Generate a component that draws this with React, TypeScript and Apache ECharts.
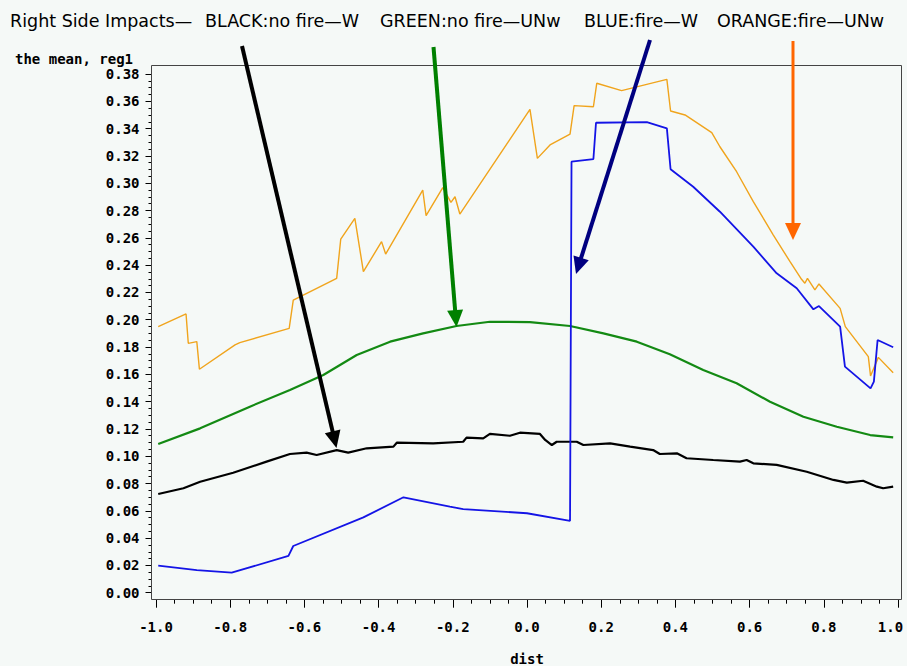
import React, { useEffect, useRef } from "react";
import * as echarts from "echarts";

// dist (x) and mean reg1 (y) pairs
const blackData: [number, number][] = [
  [-0.994, 0.0723], [-0.926, 0.0765], [-0.881, 0.0813], [-0.792, 0.0879], [-0.702, 0.096],
  [-0.639, 0.1016], [-0.594, 0.1026], [-0.567, 0.1009], [-0.513, 0.1045], [-0.482, 0.1026],
  [-0.432, 0.1058], [-0.36, 0.107], [-0.351, 0.1099], [-0.253, 0.1094], [-0.172, 0.1106],
  [-0.163, 0.1136], [-0.118, 0.1131], [-0.1, 0.1163], [-0.046, 0.115], [-0.019, 0.1172],
  [0.035, 0.1163], [0.049, 0.1119], [0.067, 0.1082], [0.08, 0.1106], [0.134, 0.1106],
  [0.152, 0.1082], [0.224, 0.1094], [0.278, 0.107], [0.34, 0.1045], [0.358, 0.1016],
  [0.404, 0.1021], [0.43, 0.0985], [0.502, 0.0972], [0.574, 0.096], [0.592, 0.0972],
  [0.61, 0.0948], [0.673, 0.0936], [0.754, 0.0886], [0.826, 0.0826], [0.862, 0.0806],
  [0.906, 0.082], [0.943, 0.0777], [0.96, 0.0765], [0.987, 0.0777],
];

const greenData: [number, number][] = [
  [-0.994, 0.1089], [-0.881, 0.1204], [-0.747, 0.1363], [-0.639, 0.1485], [-0.549, 0.1595],
  [-0.459, 0.1741], [-0.369, 0.1839], [-0.28, 0.19], [-0.19, 0.1954], [-0.1, 0.1985],
  [0.008, 0.1982], [0.116, 0.1954], [0.206, 0.19], [0.296, 0.1839], [0.385, 0.1747],
  [0.475, 0.1632], [0.565, 0.1534], [0.655, 0.1399], [0.745, 0.1289], [0.835, 0.1216],
  [0.925, 0.1155], [0.987, 0.1138],
];

const blueData: [number, number][] = [
  [-0.994, 0.0198], [-0.89, 0.0166], [-0.796, 0.0147], [-0.643, 0.0269], [-0.63, 0.0342],
  [-0.441, 0.0552], [-0.333, 0.0699], [-0.208, 0.063], [-0.172, 0.0613], [0.0, 0.0582],
  [0.116, 0.0527], [0.12, 0.3158], [0.179, 0.3177], [0.186, 0.3443], [0.323, 0.3448],
  [0.377, 0.3402], [0.387, 0.3102], [0.448, 0.2974], [0.52, 0.2791], [0.61, 0.2535],
  [0.673, 0.234], [0.727, 0.223], [0.772, 0.2076], [0.787, 0.21], [0.844, 0.1949],
  [0.857, 0.1656], [0.926, 0.1497], [0.935, 0.1546], [0.945, 0.1851], [0.987, 0.1798],
];

const orangeData: [number, number][] = [
  [-0.994, 0.1949], [-0.919, 0.2042], [-0.913, 0.1827], [-0.89, 0.1839], [-0.883, 0.1637],
  [-0.787, 0.1815], [-0.774, 0.1832], [-0.641, 0.1937], [-0.63, 0.2144], [-0.513, 0.2303],
  [-0.502, 0.2591], [-0.464, 0.2743], [-0.441, 0.2352], [-0.392, 0.2572], [-0.381, 0.2481],
  [-0.281, 0.295], [-0.272, 0.2762], [-0.227, 0.2967], [-0.205, 0.286], [-0.194, 0.2901],
  [-0.181, 0.2774], [0.008, 0.3541], [0.028, 0.3182], [0.062, 0.328], [0.116, 0.336],
  [0.127, 0.3568], [0.179, 0.356], [0.188, 0.3732], [0.255, 0.3678], [0.377, 0.3761],
  [0.387, 0.3529], [0.426, 0.35], [0.498, 0.337], [0.52, 0.3267], [0.565, 0.3084],
  [0.61, 0.2865], [0.664, 0.262], [0.709, 0.2425], [0.74, 0.2296], [0.749, 0.2267],
  [0.756, 0.2303], [0.776, 0.2218], [0.787, 0.2262], [0.844, 0.2083], [0.858, 0.1949],
  [0.92, 0.1729], [0.926, 0.1588], [0.947, 0.1724], [0.987, 0.1612],
];

const titleParts = [
  "Right Side Impacts\u2014",
  "BLACK:no fire\u2014W",
  "GREEN:no fire\u2014UNw",
  "BLUE:fire\u2014W",
  "ORANGE:fire\u2014UNw",
];
const yAxisTitle = "the mean, reg1";
const xAxisTitle = "dist";

const BG = "#f5f9f7";
const tickFont = 'bold 14px "DejaVu Sans Mono", monospace';
const labelStyle = {
  fontFamily: "DejaVu Sans Mono",
  fontWeight: "bold",
  fontSize: 14,
  color: "#000",
};

function arrow(x1: number, y1: number, x2: number, y2: number, color: string, w: number) {
  const dx = x2 - x1;
  const dy = y2 - y1;
  const len = Math.sqrt(dx * dx + dy * dy);
  const ux = dx / len;
  const uy = dy / len;
  const L = 17;
  const H = 8;
  const bx = x2 - ux * L;
  const by = y2 - uy * L;
  const nx = -uy;
  const ny = ux;
  return [
    {
      type: "line",
      z: 100,
      shape: { x1, y1, x2: bx + ux * 2, y2: by + uy * 2 },
      style: { stroke: color, lineWidth: w },
    },
    {
      type: "polygon",
      z: 100,
      shape: {
        points: [
          [x2, y2],
          [bx + nx * H, by + ny * H],
          [bx - nx * H, by - ny * H],
        ],
      },
      style: { fill: color },
    },
  ];
}

export default function App() {
  const ref = useRef<HTMLDivElement>(null);
  useEffect(() => {
    document.body.style.margin = "0";
    document.body.style.background = BG;
    const chart = echarts.init(ref.current!, null, { renderer: "svg" });
    const titleX = [10, 205, 380, 584, 717];
    const graphic: any[] = [
      ...titleParts.map((t, i) => ({
        type: "text",
        x: titleX[i],
        y: 21,
        style: {
          text: t,
          font: '17.5px "DejaVu Sans", sans-serif',
          fill: "#000",
          textAlign: "left",
          textVerticalAlign: "middle",
          align: "left",
          verticalAlign: "middle",
        },
      })),
      {
        type: "text",
        x: 15,
        y: 58.5,
        style: {
          text: yAxisTitle,
          font: tickFont,
          fill: "#000",
          textAlign: "left",
          textVerticalAlign: "middle",
          align: "left",
          verticalAlign: "middle",
        },
      },
      {
        type: "rect",
        z: 50,
        shape: { x: 151.5, y: 65.5, width: 750, height: 534 },
        style: { fill: "none", stroke: "#444", lineWidth: 1 },
      },
      ...arrow(242, 46, 336.5, 448, "#000000", 4),
      ...arrow(433.5, 47, 456.5, 327, "#008000", 4),
      ...arrow(650, 40, 576, 274, "#000080", 4),
      ...arrow(793, 41, 793, 240, "#ff6600", 3),
    ];
    const mk = (name: string, data: [number, number][], color: string, width: number) => ({
      type: "line",
      name,
      data,
      showSymbol: false,
      symbol: "none",
      lineStyle: { color, width },
      itemStyle: { color },
    });
    chart.setOption({
      animation: false,
      backgroundColor: BG,
      grid: { left: 156, top: 74, width: 742, height: 518.7, outerBoundsMode: "none", containLabel: false },
      xAxis: {
        type: "value",
        min: -1,
        max: 1,
        interval: 0.2,
        offset: 7,
        name: xAxisTitle,
        nameLocation: "middle",
        nameGap: 52,
        nameTextStyle: { ...labelStyle },
        axisLine: { show: false, onZero: false },
        axisTick: { show: true, length: 8, lineStyle: { color: "#000", width: 1 } },
        minorTick: { show: true, splitNumber: 4, length: 4, lineStyle: { color: "#000", width: 1 } },
        splitLine: { show: false },
        axisLabel: {
          margin: 20,
          ...labelStyle,
          formatter: (v: number) => (v >= 0.999 ? "{m|" + v.toFixed(1) + "}" : v.toFixed(1)),
          rich: {
            m: { ...labelStyle, padding: [0, 15, 0, 0] },
          },
        },
      },
      yAxis: {
        type: "value",
        min: 0,
        max: 0.38,
        interval: 0.02,
        offset: 4.5,
        axisLine: { show: false, onZero: false },
        axisTick: { show: true, length: 6, lineStyle: { color: "#000", width: 1 } },
        minorTick: { show: true, splitNumber: 4, length: 3, lineStyle: { color: "#000", width: 1 } },
        splitLine: { show: false },
        axisLabel: {
          margin: 12,
          lineHeight: 12,
          ...labelStyle,
          formatter: (v: number) => v.toFixed(2),
        },
      },
      series: [
        mk("ORANGE:fire-UNw", orangeData, "#f0a41c", 1.4),
        mk("GREEN:no fire-UNw", greenData, "#138a13", 2.2),
        mk("BLACK:no fire-W", blackData, "#000000", 2.2),
        mk("BLUE:fire-W", blueData, "#1414e6", 1.8),
      ],
      graphic,
    });
    return () => chart.dispose();
  }, []);
  return (
    <div
      ref={ref}
      style={{ position: "absolute", left: 0, top: 0, width: 907, height: 666, background: BG }}
    />
  );
}
